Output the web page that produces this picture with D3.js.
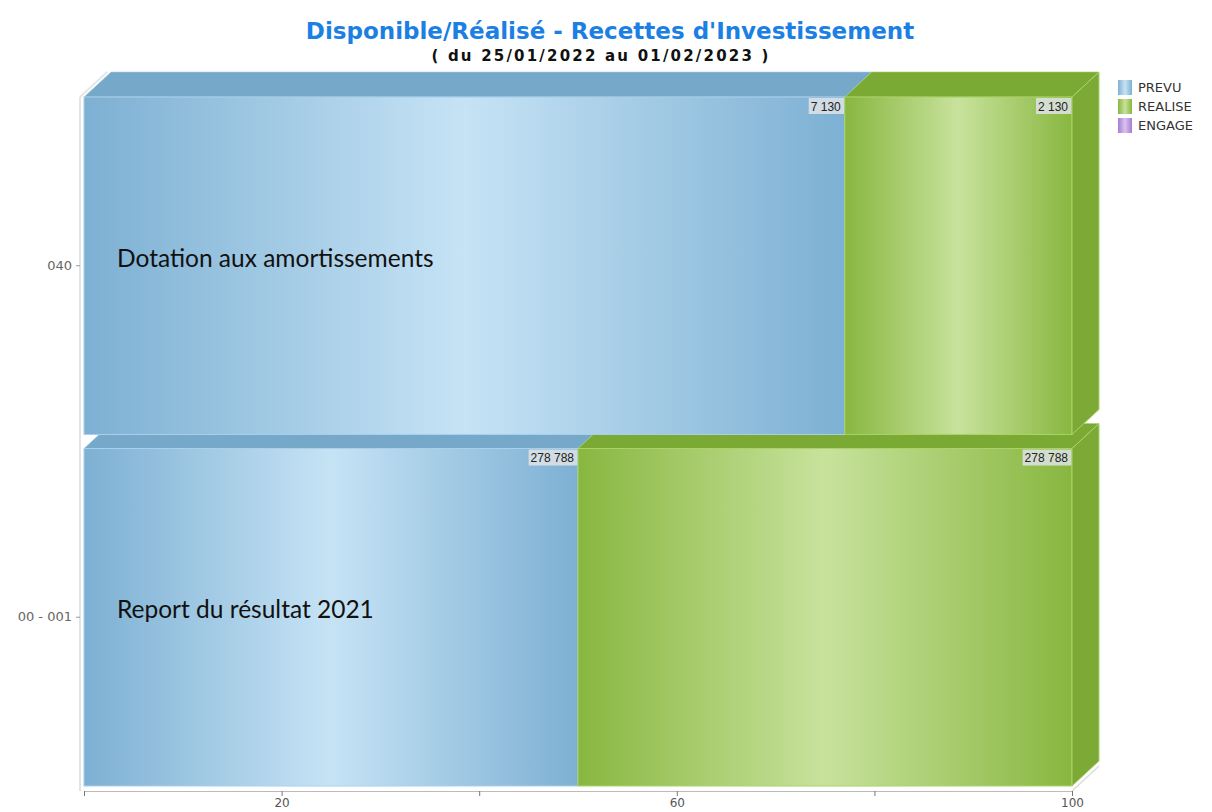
<!DOCTYPE html>
<html>
<head>
<meta charset="utf-8">
<script src="https://cdn.jsdelivr.net/npm/d3@7"></script>
<style>
  body { margin: 0; background: #fff; overflow: hidden; }
  svg { display: block; }
</style>
</head>
<body>
<div id="chart"></div>
<script>
const categories = ["040", "00 - 001"];
const categoryLabels = ["Dotation aux amortissements", "Report du résultat 2021"];
const seriesNames = ["PREVU", "REALISE", "ENGAGE"];
const prevu = [7130, 278788];
const realise = [2130, 278788];
const engage = [0, 0];
const xTicks = [0, 20, 40, 60, 80, 100];
const xTickLabels = ["", "20", "", "60", "", "100"];

const width = 1212;
const height = 812;
const depthX = 27;
const depthY = -25;

const svg = d3
  .select("#chart")
  .append("svg")
  .attr("width", width)
  .attr("height", height);

const defs = svg.append("defs");

// horizontal gradients for the front faces
function addGradient(id, edge, mid) {
  const g = defs.append("linearGradient").attr("id", id).attr("x1", 0).attr("x2", 1).attr("y1", 0).attr("y2", 0);
  g.append("stop").attr("offset", "0%").attr("stop-color", edge);
  g.append("stop").attr("offset", "50%").attr("stop-color", mid);
  g.append("stop").attr("offset", "100%").attr("stop-color", edge);
}
addGradient("grad-prevu", "#7db0d3", "#c6e3f5");
addGradient("grad-realise", "#88b740", "#c8e29c");
addGradient("grad-engage", "#a57cd0", "#d9c3f0");

const fills = {
  PREVU: { front: "url(#grad-prevu)", top: "#76a8c9", side: "#6f9fbf", edge: "#a9d0ea" },
  REALISE: { front: "url(#grad-realise)", top: "#7aa934", side: "#7daa36", edge: "#a8d468" },
  ENGAGE: { front: "url(#grad-engage)", top: "#9a70c4", side: "#9068ba", edge: "#c9a9ea" },
};

// data table -> 100% stack
const table = categories.map((c, i) => ({
  cat: c,
  label: categoryLabels[i],
  PREVU: prevu[i],
  REALISE: realise[i],
  ENGAGE: engage[i],
}));

const stack = d3.stack().keys(seriesNames).offset(d3.stackOffsetExpand);
const series = stack(table);

const x = d3.scaleLinear().domain([0, 100]).range([84, 1072]);
const y = d3.scaleBand().domain(categories).range([97, 786]).paddingInner(0.04);

// left wall / floor edges
const frame = svg.append("g").attr("class", "frame");
frame.append("line")
  .attr("x1", x(0) - 4).attr("y1", y.range()[0])
  .attr("x2", x(0) - 4 + depthX).attr("y2", y.range()[0] + depthY)
  .attr("stroke", "#e6e6e6").attr("stroke-width", 2);
frame.append("line")
  .attr("x1", x(100)).attr("y1", 791)
  .attr("x2", x(100) + depthX).attr("y2", 791 + depthY)
  .attr("stroke", "#dcdcdc").attr("stroke-width", 1.5);

// bars, bottom row first so upper row covers it
const rows = categories.slice().reverse();
const barsG = svg.append("g").attr("class", "bars");

rows.forEach((cat) => {
  const i = categories.indexOf(cat);
  const y0 = y(cat);
  const y1 = y0 + y.bandwidth();
  const segs = series
    .map((s) => ({ key: s.key, a: s[i][0] * 100, b: s[i][1] * 100, value: s[i].data[s.key] }))
    .filter((d) => d.b - d.a > 0);
  const last = segs[segs.length - 1];

  const row = barsG.append("g").attr("class", "row");

  segs.forEach((d) => {
    const xa = x(d.a), xb = x(d.b);
    const f = fills[d.key];
    // top face
    row.append("path")
      .attr("d", `M${xa},${y0}L${xa + depthX},${y0 + depthY}L${xb + depthX},${y0 + depthY}L${xb},${y0}Z`)
      .attr("fill", f.top)
      .attr("stroke", f.edge).attr("stroke-width", 0.6);
    // front face
    row.append("rect")
      .attr("x", xa).attr("y", y0)
      .attr("width", xb - xa).attr("height", y1 - y0)
      .attr("fill", f.front)
      .attr("stroke", f.edge).attr("stroke-width", 1);
  });

  // right side face
  const xe = x(last.b);
  const fl = fills[last.key];
  row.append("path")
    .attr("d", `M${xe},${y0}L${xe + depthX},${y0 + depthY}L${xe + depthX},${y1 + depthY}L${xe},${y1}Z`)
    .attr("fill", fl.side)
    .attr("stroke", fl.edge).attr("stroke-width", 1);

  // value labels top-right of each segment
  segs.forEach((d) => {
    const xb = x(d.b);
    const txt = d3.format(",")(d.value).replace(/,/g, " ");
    const lab = row.append("g").attr("transform", `translate(${xb - 4},${y0 + 1})`);
    const t = lab.append("text")
      .attr("x", 0).attr("y", 12.5)
      .attr("text-anchor", "end")
      .attr("font-family", "Liberation Sans, Arial, sans-serif")
      .attr("font-size", 12)
      .attr("fill", "#222")
      .text(txt);
    const bb = t.node().getBBox();
    lab.insert("rect", "text")
      .attr("x", bb.x - 2).attr("y", 0)
      .attr("width", bb.width + 5).attr("height", 16)
      .attr("fill", "#dfe3e6").attr("opacity", 0.85);
  });

  // category label inside bar
  row.append("text")
    .attr("x", x(0) + 33)
    .attr("y", y0 + y.bandwidth() / 2 + 1)
    .attr("font-family", "Lato, 'Open Sans', sans-serif")
    .attr("font-size", 24.5)
    .attr("fill", "#111")
    .text(table[i].label);
});

// axes
const yAxis = svg.append("g")
  .attr("transform", `translate(${x(0) - 4},0)`)
  .call(d3.axisLeft(y).tickSize(4).tickPadding(4));
yAxis.select(".domain").attr("stroke", "#c8c8c8").attr("d", `M0,${y.range()[0]}V791`);
yAxis.selectAll(".tick line").attr("stroke", "#999");
yAxis.selectAll(".tick text")
  .attr("font-family", "DejaVu Sans, sans-serif")
  .attr("font-size", 13)
  .attr("fill", "#666");

const xAxis = svg.append("g")
  .attr("transform", "translate(0,791)")
  .call(d3.axisBottom(x).tickValues(xTicks).tickFormat((d, i) => xTickLabels[i]).tickSize(5).tickPadding(2));
xAxis.select(".domain").attr("stroke", "#bbb");
xAxis.selectAll(".tick line").attr("stroke", "#777");
xAxis.selectAll(".tick text")
  .attr("font-family", "DejaVu Sans, sans-serif")
  .attr("font-size", 12)
  .attr("fill", "#555");

// title
svg.append("text")
  .attr("x", 610).attr("y", 39)
  .attr("text-anchor", "middle")
  .attr("font-family", "DejaVu Sans, sans-serif")
  .attr("font-weight", "bold")
  .attr("font-size", 23)
  .attr("fill", "#1c7fe3")
  .text("Disponible/Réalisé - Recettes d'Investissement");

svg.append("text")
  .attr("x", 601).attr("y", 61)
  .attr("text-anchor", "middle")
  .attr("font-family", "DejaVu Sans, sans-serif")
  .attr("font-weight", "bold")
  .attr("font-size", 15)
  .attr("letter-spacing", 2.2)
  .attr("fill", "#111")
  .text("( du 25/01/2022 au 01/02/2023 )");

// legend
const legend = svg.append("g").attr("transform", "translate(1118,80)");
seriesNames.forEach((name, i) => {
  const g = legend.append("g").attr("transform", `translate(0,${i * 19})`);
  g.append("rect")
    .attr("x", 0).attr("y", 0).attr("width", 14).attr("height", 15)
    .attr("fill", fills[name].front);
  g.append("text")
    .attr("x", 20).attr("y", 12)
    .attr("font-family", "DejaVu Sans, sans-serif")
    .attr("font-size", 13)
    .attr("fill", "#333")
    .text(name);
});
</script>
</body>
</html>
